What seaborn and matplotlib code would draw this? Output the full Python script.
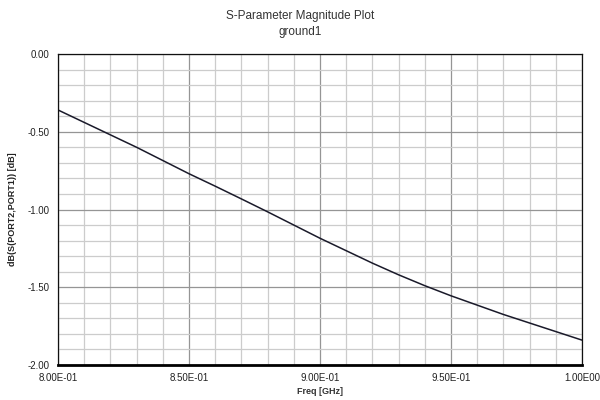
import matplotlib
matplotlib.use("Agg")
import matplotlib.pyplot as plt
import numpy as np
import pandas as pd
import seaborn as sns
from matplotlib.ticker import MultipleLocator, FuncFormatter

# Valores
freq_ghz = [0.80, 0.81, 0.82, 0.83, 0.84, 0.85, 0.86, 0.87, 0.88, 0.89, 0.90,
            0.91, 0.92, 0.93, 0.94, 0.95, 0.96, 0.97, 0.98, 0.99, 1.00]
s21_db = [-0.36, -0.44, -0.52, -0.60, -0.685, -0.77, -0.85, -0.932, -1.015, -1.10, -1.185,
          -1.265, -1.345, -1.42, -1.49, -1.555, -1.615, -1.675, -1.73, -1.785, -1.84]
x_ticks = [0.80, 0.85, 0.90, 0.95, 1.00]
x_tick_labels = ["8.00E-01", "8.50E-01", "9.00E-01", "9.50E-01", "1.00E00"]
y_ticks = [0.0, -0.5, -1.0, -1.5, -2.0]

sns.set_style("white")
plt.rcParams["font.family"] = ["Liberation Sans", "DejaVu Sans"]

df = pd.DataFrame({"freq": freq_ghz, "db": s21_db})

fig = plt.figure(figsize=(6, 4), dpi=100)
ax = fig.add_axes([0.0967, 0.0875, 0.8733, 0.7775])

ax.set_xlim(0.80, 1.00)
ax.set_ylim(-2.0, 0.0)

# grade menor e maior
ax.xaxis.set_minor_locator(MultipleLocator(0.01))
ax.yaxis.set_minor_locator(MultipleLocator(0.1))
ax.grid(which="minor", color="#cccccc", linewidth=0.9)
ax.grid(which="major", color="#959595", linewidth=0.9)
ax.set_axisbelow(True)

sns.lineplot(data=df, x="freq", y="db", ax=ax, color="#1a1a2a", linewidth=1.1)

ax.set_xticks(x_ticks)
ax.set_xticklabels(x_tick_labels)
ax.set_yticks(y_ticks)
ax.yaxis.set_major_formatter(FuncFormatter(lambda v, p: f"{v:.2f}"))

ax.tick_params(axis="both", which="major", labelsize=7, colors="#222222",
               direction="out", length=5, width=0.8, pad=1)
ax.tick_params(axis="both", which="minor", direction="out", length=3, width=0.8,
               color="#222222")

for lado in ["top", "right", "left"]:
    ax.spines[lado].set_color("#111111")
    ax.spines[lado].set_linewidth(0.9)
ax.spines["bottom"].set_color("#000000")
ax.spines["bottom"].set_linewidth(2.0)

ax.set_xlabel("Freq [GHz]", fontsize=6.5, fontweight="bold", color="#333333", labelpad=3)
ax.set_ylabel("dB(S(PORT2,PORT1)) [dB]", fontsize=6.5, fontweight="bold",
              color="#222222", labelpad=8)

fig.text(0.5, 0.975, "S-Parameter Magnitude Plot", ha="center", va="top",
         fontsize=8.5, color="#333333")
fig.text(0.5, 0.935, "ground1", ha="center", va="top", fontsize=8.5, color="#333333")

fig.savefig("out.png", dpi=100)
plt.close(fig)
